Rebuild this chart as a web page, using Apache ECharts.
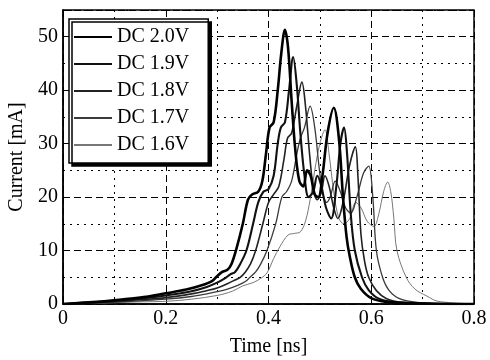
<!DOCTYPE html>
<html>
<head>
<meta charset="utf-8">
<script src="https://cdn.jsdelivr.net/npm/echarts@6/dist/echarts.min.js"></script>
<style>html,body{margin:0;padding:0;background:#fff;}#c{width:490px;height:360px;}</style>
</head>
<body>
<div id="c"></div>
<script>
const seriesNames = ['DC 2.0V', 'DC 1.9V', 'DC 1.8V', 'DC 1.7V', 'DC 1.6V'];
const xTicks = [0, 0.2, 0.4, 0.6, 0.8];
const yTicks = [0, 10, 20, 30, 40, 50];

const dc20 = [[0,0],[0.05,0.3],[0.1,0.7],[0.15,1.2],[0.2,2.0],[0.24,2.7],[0.27,3.5],[0.29,4.3],[0.3,5.2],[0.31,6.0],[0.32,6.4],[0.328,7.5],[0.338,10.5],[0.35,15],[0.36,19.5],[0.368,20.5],[0.38,21],[0.388,23],[0.395,28],[0.402,33],[0.41,34],[0.418,40],[0.425,47],[0.432,51.3],[0.438,48],[0.445,38],[0.452,29],[0.46,23],[0.468,22],[0.475,25],[0.482,24],[0.49,20.5],[0.497,20],[0.505,24],[0.515,32],[0.527,36.7],[0.537,31],[0.545,20],[0.552,12.5],[0.558,9],[0.568,5],[0.58,2.8],[0.6,1.1],[0.63,0.4],[0.7,0.1],[0.8,0]];
const dc19 = [[0,0],[0.05,0.25],[0.1,0.6],[0.15,1.0],[0.2,1.6],[0.25,2.4],[0.28,3.2],[0.3,4.0],[0.315,4.8],[0.325,5.5],[0.335,6.0],[0.345,7.5],[0.357,10],[0.37,15],[0.38,19],[0.39,21],[0.4,21.5],[0.41,24],[0.418,30],[0.424,33],[0.432,34],[0.44,40],[0.448,46.2],[0.455,41],[0.462,32],[0.47,24],[0.478,20],[0.487,21],[0.495,24],[0.503,22],[0.512,18],[0.522,16],[0.532,22],[0.54,30],[0.547,33],[0.553,28],[0.56,17],[0.568,10],[0.582,5],[0.595,2.6],[0.615,1],[0.65,0.3],[0.72,0.05],[0.8,0]];
const dc18 = [[0,0],[0.05,0.2],[0.1,0.45],[0.15,0.8],[0.2,1.2],[0.25,1.9],[0.28,2.5],[0.3,3.0],[0.32,3.8],[0.335,4.5],[0.345,5.0],[0.355,6],[0.365,7.5],[0.375,10],[0.389,15],[0.4,19],[0.41,20.5],[0.42,22],[0.43,27],[0.437,31],[0.445,32],[0.455,37],[0.465,41.5],[0.472,37],[0.48,28],[0.488,21],[0.495,19.5],[0.503,21],[0.51,24],[0.518,22],[0.527,18],[0.535,16],[0.545,19],[0.558,26],[0.569,29.4],[0.574,24],[0.58,13],[0.587,8],[0.595,5],[0.61,2.5],[0.63,1],[0.66,0.3],[0.73,0.05],[0.8,0]];
const dc17 = [[0,0],[0.05,0.15],[0.1,0.35],[0.15,0.6],[0.2,0.9],[0.25,1.4],[0.28,1.9],[0.3,2.3],[0.32,2.8],[0.34,3.5],[0.355,4.2],[0.364,5],[0.375,6],[0.385,7.5],[0.397,10],[0.414,15],[0.426,20],[0.435,21],[0.445,23],[0.455,28],[0.462,31],[0.47,33],[0.481,37],[0.49,33],[0.498,26],[0.505,21],[0.513,19],[0.52,20],[0.53,23],[0.54,21],[0.55,18],[0.56,17],[0.572,20],[0.585,24.5],[0.595,25.8],[0.603,20],[0.61,10],[0.622,5],[0.635,2.5],[0.655,1],[0.69,0.3],[0.75,0.05],[0.8,0]];
const dc16 = [[0,0],[0.05,0.1],[0.1,0.25],[0.15,0.4],[0.2,0.5],[0.25,0.9],[0.3,1.6],[0.33,2.4],[0.35,3.4],[0.37,4],[0.385,4.8],[0.397,5.8],[0.41,8.5],[0.422,10.7],[0.438,12.9],[0.45,13.2],[0.462,13.5],[0.472,15.5],[0.481,19.5],[0.49,25],[0.5,30],[0.51,32.6],[0.518,28],[0.527,21],[0.537,16],[0.547,15],[0.558,16],[0.57,19],[0.58,18],[0.592,15.5],[0.605,14.5],[0.615,17],[0.624,21],[0.632,22.8],[0.638,21],[0.644,16],[0.65,10],[0.668,5],[0.685,2.8],[0.708,1.5],[0.73,0.5],[0.8,0.05]];

const allData = [dc20, dc19, dc18, dc17, dc16];
const lineWidths = [2.6, 2.1, 1.6, 1.3, 1.0];
const lineColors = ['#000000', '#111111', '#222222', '#3a3a3a', '#777777'];

const serif = '"Liberation Serif", "DejaVu Serif", serif';
const chart = echarts.init(document.getElementById('c'));
chart.setOption({
  animation: false,
  backgroundColor: '#fff',
  grid: { left: 63, right: 16, top: 10, bottom: 56, outerBoundsMode: 'none', containLabel: false,
    show: true, borderColor: '#000', borderWidth: 1.5, backgroundColor: 'transparent' },
  legend: {
    data: seriesNames,
    orient: 'vertical',
    left: 69, top: 19,
    padding: [8, 19, 8, 4],
    itemGap: 7,
    itemWidth: 38, itemHeight: 14,
    backgroundColor: '#fff',
    borderColor: '#000', borderWidth: 1.5,
    shadowColor: '#000', shadowBlur: 0, shadowOffsetX: 3, shadowOffsetY: 3,
    itemStyle: { opacity: 0 },
    textStyle: { fontFamily: serif, fontSize: 20, color: '#000' }
  },
  xAxis: {
    type: 'value', min: xTicks[0], max: xTicks[xTicks.length - 1], interval: 0.2,
    name: 'Time [ns]', nameLocation: 'middle', nameGap: 33,
    nameTextStyle: { fontFamily: serif, fontSize: 20, color: '#000' },
    axisLine: { lineStyle: { color: '#000', width: 1.5 } },
    axisTick: { inside: true, length: 4, lineStyle: { color: '#000' } },
    axisLabel: { fontFamily: serif, fontSize: 20, color: '#000', margin: 5, formatter: v => String(v) },
    splitLine: { show: true, lineStyle: { color: '#000', width: 1, type: [7, 4] } },
    minorTick: { show: false, splitNumber: 2 },
    minorSplitLine: { show: true, lineStyle: { color: '#000', width: 1, type: [2, 5] } }
  },
  yAxis: [{
    type: 'value', min: 0, max: 55, interval: 10,
    name: 'Current [mA]', nameLocation: 'middle', nameGap: 34,
    nameTextStyle: { fontFamily: serif, fontSize: 20, color: '#000' },
    axisLine: { show: true, lineStyle: { color: '#000', width: 1.5 } },
    axisTick: { show: true, inside: true, length: 4, lineStyle: { color: '#000' } },
    axisLabel: { fontFamily: serif, fontSize: 20, color: '#000', margin: 5, showMaxLabel: false,
      formatter: v => (yTicks.indexOf(v) >= 0 ? String(v) : '') },
    splitLine: { show: true, lineStyle: { color: '#000', width: 1, type: [7, 4] } }
  }, {
    type: 'value', min: 0, max: 55, interval: 5, position: 'left',
    axisLine: { show: false }, axisTick: { show: false }, axisLabel: { show: false },
    splitLine: { show: true, lineStyle: { color: ['rgba(0,0,0,0)', '#000'], width: 1, type: [2, 5] } }
  }],
  series: allData.map((d, i) => ({
    name: seriesNames[i],
    type: 'line',
    data: d,
    yAxisIndex: 0,
    showSymbol: false,
    symbol: 'none',
    smooth: 0.35,
    z: 10 - i,
    lineStyle: { color: lineColors[i], width: lineWidths[i] },
    itemStyle: { color: lineColors[i] }
  }))
});
</script>
</body>
</html>
